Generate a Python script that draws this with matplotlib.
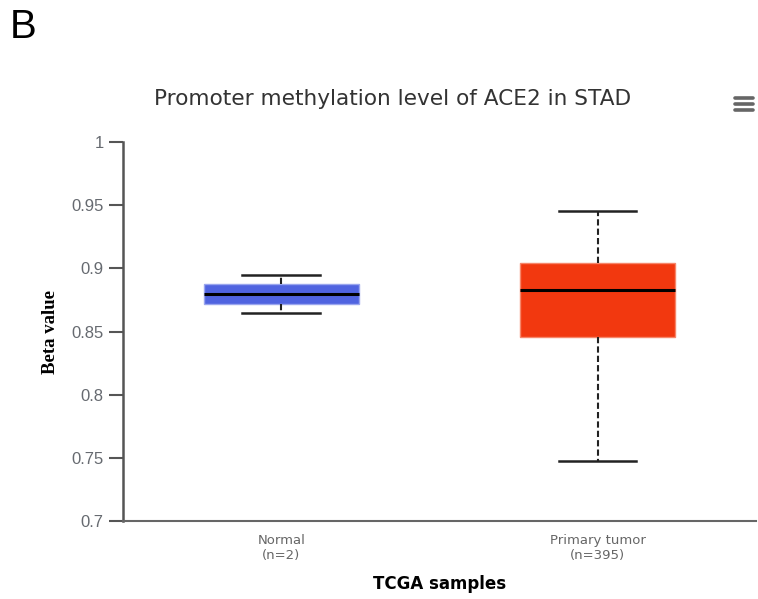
import matplotlib.pyplot as plt
from matplotlib.lines import Line2D

# --- data ---
groups = ["Normal\n(n=2)", "Primary tumor\n(n=395)"]
whisker_low = [0.8649, 0.7472]
box_low = [0.8721, 0.8456]
medians = [0.8799, 0.8826]
box_high = [0.8874, 0.9045]
whisker_high = [0.8945, 0.9456]
fill_colors = ["#5064e0", "#f2380f"]
edge_colors = ["#9aa6ee", "#f7866a"]

y_ticks = [0.7, 0.75, 0.8, 0.85, 0.9, 0.95, 1]
y_tick_labels = ["0.7", "0.75", "0.8", "0.85", "0.9", "0.95", "1"]

fig = plt.figure(figsize=(7.58, 5.99), dpi=100)
ax = fig.add_axes([0.1623, 0.1302, 0.835, 0.6327])

stats = []
for i in range(len(groups)):
    stats.append({
        "whislo": whisker_low[i], "q1": box_low[i], "med": medians[i],
        "q3": box_high[i], "whishi": whisker_high[i], "fliers": [],
    })

bp = ax.bxp(
    stats, positions=[0.5, 1.5], widths=0.49, patch_artist=True,
    showfliers=False,
    whiskerprops=dict(color="#222222", linestyle=(0, (3, 1.5)), linewidth=1.5),
    capprops=dict(color="#222222", linewidth=1.8),
    medianprops=dict(color="black", linewidth=2.2),
    capwidths=0.245,
)
for patch, fc, ec in zip(bp["boxes"], fill_colors, edge_colors):
    patch.set_facecolor(fc)
    patch.set_edgecolor(ec)
    patch.set_linewidth(1.0)

ax.set_xlim(0, 2)
ax.set_ylim(0.7, 1.0)
ax.set_xticks([0.5, 1.5])
ax.set_xticklabels(groups, color="#666666", fontsize=9.5, family="DejaVu Sans",
                   linespacing=1.25)
ax.tick_params(axis="x", length=0, pad=9)
ax.set_yticks(y_ticks)
ax.set_yticklabels(y_tick_labels, color="#666a70", fontsize=12, family="Liberation Sans")
ax.tick_params(axis="y", length=10, width=1.5, color="#555555", pad=4)

for side in ["top", "right"]:
    ax.spines[side].set_visible(False)
ax.spines["left"].set_color("#555555")
ax.spines["left"].set_linewidth(1.8)
ax.spines["bottom"].set_color("#666666")
ax.spines["bottom"].set_linewidth(1.5)

ax.set_ylabel("Beta value", fontsize=13.5, fontweight="bold",
              family="Liberation Serif", labelpad=9)
ax.set_xlabel("TCGA samples", fontsize=12, fontweight="bold",
              family="DejaVu Sans", labelpad=9)

fig.text(0.518, 0.834, "Promoter methylation level of ACE2 in STAD",
         ha="center", va="center", fontsize=15.6, color="#333333",
         family="DejaVu Sans")
fig.text(0.013, 0.955, "B", ha="left", va="center", fontsize=29,
         family="Liberation Sans")

# menu icon (three bars)
for yy in [0.837, 0.827, 0.816]:
    fig.add_artist(Line2D([0.969, 0.994], [yy, yy], transform=fig.transFigure,
                          color="#666666", linewidth=2.6, solid_capstyle="round"))

fig.savefig("out.png", dpi=100)
